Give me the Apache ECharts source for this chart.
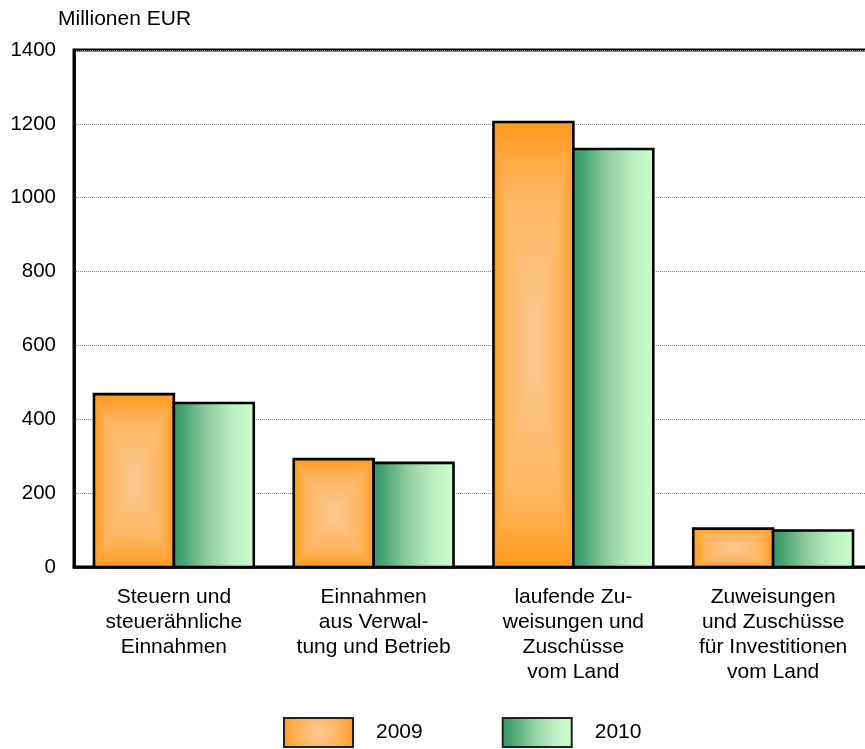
<!DOCTYPE html>
<html>
<head>
<meta charset="utf-8">
<script src="https://cdn.jsdelivr.net/npm/echarts@6/dist/echarts.min.js"></script>
<style>
html,body{margin:0;padding:0;background:#fff;}
#chart{width:865px;height:749px;}
</style>
</head>
<body>
<div id="chart"></div>
<script>
const categories = [
  "Steuern und\nsteuerähnliche\nEinnahmen",
  "Einnahmen\naus Verwal-\ntung und Betrieb",
  "laufende Zu-\nweisungen und\nZuschüsse\nvom Land",
  "Zuweisungen\nund Zuschüsse\nfür Investitionen\nvom Land"
];
const values2009 = [468, 292, 1205, 104];
const values2010 = [444, 282, 1132, 99];
const seriesNames = ["2009", "2010"];
const yTicks = [0, 200, 400, 600, 800, 1000, 1200, 1400];
const unitLabel = "Millionen EUR";

const FONT = "'Liberation Sans', Arial, sans-serif";
const ORANGE_EDGE = "#FF9A1C";
const ORANGE_MID = "#FFB45C";
const ORANGE_CENTER = "#FDCA95";
const G = echarts.graphic;

function lin(x0, y0, x1, y1, stops) {
  return new G.LinearGradient(x0, y0, x1, y1, stops);
}
const orangeStops = [
  {offset: 0, color: ORANGE_EDGE},
  {offset: 0.3, color: ORANGE_MID},
  {offset: 1, color: ORANGE_CENTER}
];
const greenGrad = lin(0, 0, 1, 0, [
  {offset: 0, color: "#3A9868"},
  {offset: 0.12, color: "#44A171"},
  {offset: 0.42, color: "#8ECD9E"},
  {offset: 0.72, color: "#B9EEC1"},
  {offset: 1, color: "#CCFFCC"}
]);

function barGeom(api, side) {
  const cat = api.value(0), val = api.value(1);
  const base = api.coord([cat, 0]);
  const top = api.coord([cat, val]);
  const band = api.size([1, 0])[0];
  const w = band * 0.4;
  const x0 = side < 0 ? base[0] - w : base[0];
  return {x0: x0, x1: x0 + w, y0: top[1], y1: base[1]};
}

function renderOrange(params, api) {
  const g = barGeom(api, -1);
  const xc = (g.x0 + g.x1) / 2, yc = (g.y0 + g.y1) / 2;
  const rev = orangeStops.map(s => ({offset: 1 - s.offset, color: s.color})).reverse();
  return {
    type: "group",
    children: [
      {type: "rect", shape: {x: g.x0, y: g.y0, width: g.x1 - g.x0, height: g.y1 - g.y0},
       style: {fill: ORANGE_MID}},
      {type: "polygon", shape: {points: [[g.x0, g.y0], [g.x0, g.y1], [xc, yc]]},
       style: {fill: lin(0, 0, 1, 0, orangeStops)}},
      {type: "polygon", shape: {points: [[g.x1, g.y0], [g.x1, g.y1], [xc, yc]]},
       style: {fill: lin(0, 0, 1, 0, rev)}},
      {type: "polygon", shape: {points: [[g.x0, g.y0], [g.x1, g.y0], [xc, yc]]},
       style: {fill: lin(0, 0, 0, 1, orangeStops)}},
      {type: "polygon", shape: {points: [[g.x0, g.y1], [g.x1, g.y1], [xc, yc]]},
       style: {fill: lin(0, 0, 0, 1, rev)}},
      {type: "rect", shape: {x: g.x0, y: g.y0, width: g.x1 - g.x0, height: g.y1 - g.y0},
       style: {fill: "none", stroke: "#000", lineWidth: 2.6}}
    ]
  };
}

function renderGreen(params, api) {
  const g = barGeom(api, 1);
  return {
    type: "rect",
    shape: {x: g.x0, y: g.y0, width: g.x1 - g.x0, height: g.y1 - g.y0},
    style: {fill: greenGrad, stroke: "#000", lineWidth: 2.6}
  };
}

const chart = echarts.init(document.getElementById("chart"), null, {renderer: "canvas"});
chart.setOption({
  backgroundColor: "#fff",
  animation: false,
  textStyle: {fontFamily: FONT, color: "#000"},
  title: {
    text: unitLabel, left: 58, top: 9, padding: 0,
    textStyle: {fontFamily: FONT, fontSize: 21, fontWeight: "normal", color: "#000"}
  },
  grid: {
    left: 74, width: 799, top: 50, bottom: 182,
    outerBoundsMode: "none", containLabel: false,
    show: true, borderColor: "#000", borderWidth: 3, backgroundColor: "transparent"
  },
  legend: {
    left: 283, top: 717, padding: 0,
    itemWidth: 69, itemHeight: 29, itemGap: 79,
    textStyle: {fontFamily: FONT, fontSize: 21, color: "#000", padding: [0, 0, 0, 18]},
    data: [
      {name: seriesNames[0], icon: "rect",
       itemStyle: {color: new G.RadialGradient(0.5, 0.5, 1.25, [
         {offset: 0, color: ORANGE_CENTER}, {offset: 0.55, color: ORANGE_MID}, {offset: 1, color: ORANGE_EDGE}]),
         borderColor: "#222", borderWidth: 2}},
      {name: seriesNames[1], icon: "rect",
       itemStyle: {color: greenGrad, borderColor: "#222", borderWidth: 2}}
    ]
  },
  xAxis: {
    type: "category",
    data: categories,
    axisLine: {show: true, lineStyle: {color: "#000", width: 2.6}},
    axisTick: {show: false},
    axisLabel: {
      interval: 0, margin: 18, fontFamily: FONT, fontSize: 21, lineHeight: 25,
      color: "#000", align: "center"
    },
    splitLine: {show: false}
  },
  yAxis: {
    type: "value",
    min: yTicks[0], max: yTicks[yTicks.length - 1], interval: yTicks[1] - yTicks[0],
    axisLine: {show: true, lineStyle: {color: "#000", width: 2.6}},
    axisTick: {show: false},
    axisLabel: {margin: 18, fontFamily: FONT, fontSize: 20.5, color: "#000",
      formatter: v => String(v)},
    splitLine: {show: true, lineStyle: {color: "#888", type: "dotted", width: 1}}
  },
  series: [
    {
      name: seriesNames[0], type: "custom",
      renderItem: renderOrange,
      encode: {x: 0, y: 1},
      itemStyle: {color: ORANGE_EDGE},
      data: categories.map((c, i) => [i, values2009[i]])
    },
    {
      name: seriesNames[1], type: "custom",
      renderItem: renderGreen,
      encode: {x: 0, y: 1},
      itemStyle: {color: "#5FB07F"},
      data: categories.map((c, i) => [i, values2010[i]])
    }
  ]
});
</script>
</body>
</html>
